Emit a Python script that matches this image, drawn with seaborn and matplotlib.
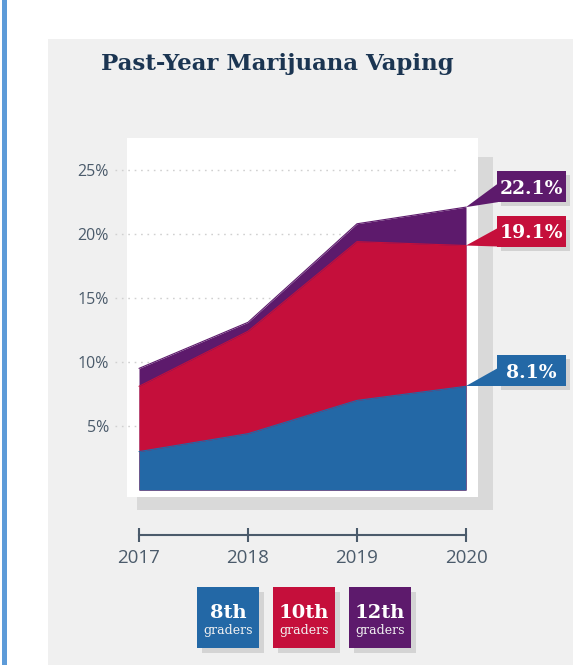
import matplotlib
matplotlib.use("Agg")
import matplotlib.pyplot as plt
import seaborn as sns
import pandas as pd
from matplotlib.patches import Rectangle, Polygon

# ---------------- data ----------------
years = [2017, 2018, 2019, 2020]
grade8 = [3.0, 4.4, 7.0, 8.1]
grade10 = [8.1, 12.4, 19.4, 19.1]
grade12 = [9.5, 13.1, 20.8, 22.1]
series_names = ["8th", "10th", "12th"]
y_ticks = [5, 10, 15, 20, 25]
y_tick_labels = ["5%", "10%", "15%", "20%", "25%"]
title = "Past-Year Marijuana Vaping"

# ---------------- style ----------------
W, H = 573, 665
colors = {"8th": "#2368a6", "10th": "#c50f3b", "12th": "#5d1a6c"}
slab = "DejaVu Serif"
sans = "Open Sans"
axis_col = "#4b5b6b"

sns.set_theme(style="white")
plt.rcParams["font.family"] = [sans, "DejaVu Sans"]

df = pd.DataFrame({"year": years, "8th": grade8, "10th": grade10, "12th": grade12})

fig = plt.figure(figsize=(W / 100, H / 100), dpi=100)
fig.patch.set_facecolor("white")


def fx(px):
    return px / W


def fy(py):
    return 1 - py / H


def frect(x0, y0, x1, y1, color, z):
    fig.patches.append(Rectangle((fx(x0), fy(y1)), fx(x1) - fx(x0), fy(y0) - fy(y1),
                                 transform=fig.transFigure, facecolor=color,
                                 edgecolor="none", zorder=z))


# background pieces
frect(2, 0, 7, H, "#5d9bd8", -3)
frect(48, 39, W, H, "#f0f0f0", -3)
frect(137, 157, 493, 510, "#d9d9d9", -2)

# main axes = white panel
ax = fig.add_axes([fx(127), fy(497), fx(478) - fx(127), fy(138) - fy(497)])
ax.set_zorder(1)
ax.set_facecolor("white")
for s in ax.spines.values():
    s.set_visible(False)

ax.set_xlim(2017 - 12 / 109, 2020 + 12 / 109)
ax.set_ylim(5 - 71 / 12.8, 25 + 32 / 12.8)

# dotted gridlines (extend left into grey margin)
ax.hlines(y_ticks, 2017 - 24 / 109, 2017 + 318 / 109, colors="#d0d0d0",
          linestyles=(0, (1.2, 3.4)), linewidth=1.0, clip_on=False, zorder=1)

for name in ["12th", "10th", "8th"]:
    ax.fill_between(df["year"], 0, df[name], color=colors[name], linewidth=0, zorder=2)
    sns.lineplot(data=df, x="year", y=name, ax=ax, color=colors[name], linewidth=0.8,
                 zorder=3, legend=False)

ax.set_xlabel("")
ax.set_ylabel("")
ax.set_xticks([])
ax.set_yticks(y_ticks)
ax.set_yticklabels(y_tick_labels, fontsize=11.5, color=axis_col, family=[sans, "DejaVu Sans"])
ax.tick_params(axis="y", length=0, pad=13)

# x-axis (separate timeline below panel)
ax2 = fig.add_axes([fx(139), fy(535), fx(466) - fx(139), 0.0001])
ax2.set_zorder(1)
ax2.set_facecolor("none")
for k in ["left", "right", "top"]:
    ax2.spines[k].set_visible(False)
ax2.spines["bottom"].set_color(axis_col)
ax2.spines["bottom"].set_linewidth(1.5)
ax2.set_xlim(years[0], years[-1])
ax2.set_yticks([])
ax2.set_xticks(years)
ax2.set_xticklabels([str(y) for y in years], fontsize=13.5, color=axis_col,
                    family=[sans, "DejaVu Sans"])
ax2.tick_params(axis="x", bottom=True, direction="inout", length=10, width=1.5,
                color=axis_col, pad=5)

# title
fig.text(fx(277), fy(70), title, ha="center", va="baseline", fontsize=16.5,
         fontweight="heavy", color="#1b3552", family=slab, zorder=5)

# callouts at the last year
fig.canvas.draw()
last = {"8th": grade8[-1], "10th": grade10[-1], "12th": grade12[-1]}
box_dy = {"8th": 0, "10th": 1, "12th": -5}
bw, bh = 69, 31
for name in series_names:
    dxp, dyp = ax.transData.transform((years[-1], last[name]))
    tx, ty = dxp, H - dyp
    left = tx + 31
    bottom = ty + box_dy[name]
    top = bottom - bh
    # shadow
    frect(left + 4, top + 4, left + bw + 4, bottom + 4, "#d2d2d2", 5)
    frect(left, top, left + bw, bottom, colors[name], 6)
    tri = Polygon([(fx(tx), fy(ty)), (fx(left + 1), fy(bottom)), (fx(left + 1), fy(bottom - 0.6 * bh))],
                  closed=True, transform=fig.transFigure, facecolor=colors[name],
                  edgecolor="none", zorder=6)
    fig.patches.append(tri)
    fig.text(fx(left + bw / 2), fy(top + bh / 2), f"{last[name]:.1f}%", ha="center",
             va="center_baseline", fontsize=13.5, fontweight="bold", color="white",
             family=slab, zorder=7)

# legend boxes
legend_x = {"8th": 197, "10th": 273, "12th": 349}
for name in series_names:
    x0 = legend_x[name]
    frect(x0 + 5, 592, x0 + 62 + 5, 653, "#d4d4d4", 3)
    frect(x0, 587, x0 + 62, 648, colors[name], 4)
    fig.text(fx(x0 + 31), fy(611), name, ha="center", va="center_baseline", fontsize=14,
             fontweight="bold", color="white", family=slab, zorder=5)
    fig.text(fx(x0 + 31), fy(629), "graders", ha="center", va="center_baseline",
             fontsize=9, color="#f2f2f2", family=slab, zorder=5)

fig.savefig("out.png", dpi=100)
